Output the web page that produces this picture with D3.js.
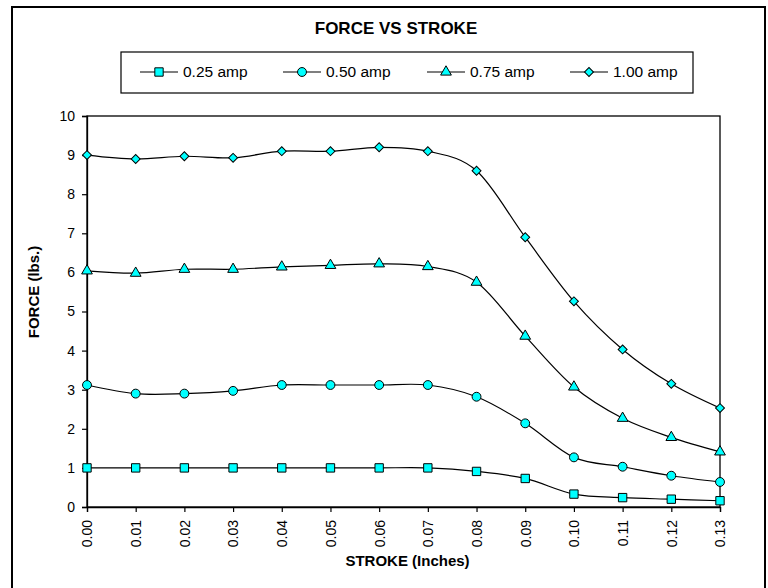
<!DOCTYPE html>
<html>
<head>
<meta charset="utf-8">
<script src="https://cdn.jsdelivr.net/npm/d3@7"></script>
<style>
  html, body { margin: 0; padding: 0; background: #fff; }
  svg { display: block; font-family: "Liberation Sans", Arial, sans-serif; }
</style>
</head>
<body>
<svg id="chart" width="768" height="588"></svg>
<script>
const strokes = ["0.00","0.01","0.02","0.03","0.04","0.05","0.06","0.07","0.08","0.09","0.10","0.11","0.12","0.13"];
const amp025 = [1.0, 1.0, 1.0, 1.0, 1.0, 1.0, 1.0, 1.0, 0.91, 0.73, 0.33, 0.24, 0.20, 0.16];
const amp050 = [3.12, 2.9, 2.9, 2.97, 3.12, 3.12, 3.12, 3.12, 2.82, 2.14, 1.27, 1.03, 0.8, 0.64];
const amp075 = [6.04, 5.98, 6.08, 6.08, 6.14, 6.18, 6.22, 6.15, 5.75, 4.37, 3.07, 2.27, 1.78, 1.41];
const amp100 = [9.0, 8.9, 8.97, 8.93, 9.1, 9.1, 9.2, 9.1, 8.6, 6.9, 5.26, 4.03, 3.15, 2.53];
const seriesNames = ["0.25 amp", "0.50 amp", "0.75 amp", "1.00 amp"];
const seriesValues = [amp025, amp050, amp075, amp100];
const yTicks = [0,1,2,3,4,5,6,7,8,9,10];

// marker shapes: square, circle, triangle, diamond (rotated square)
const markerDefs = [
  {type: d3.symbolSquare, size: 70, rot: 0},
  {type: d3.symbolCircle, size: 62, rot: 0},
  {type: d3.symbolTriangle, size: 50, rot: 0},
  {type: d3.symbolSquare, size: 40, rot: 45}
];

const svg = d3.select("#chart");
const fill = "#00ffff";

// outer frame
svg.append("rect").attr("x", 12).attr("y", 7).attr("width", 753).attr("height", 590)
  .attr("fill", "none").attr("stroke", "#000").attr("stroke-width", 2);

const plot = {left: 87, right: 720, top: 116, bottom: 507};
const x = d3.scalePoint().domain(strokes).range([plot.left, plot.right]);
const y = d3.scaleLinear().domain([0, 10]).range([plot.bottom, plot.top]);

// plot border
svg.append("rect").attr("x", plot.left).attr("y", plot.top)
  .attr("width", plot.right - plot.left).attr("height", plot.bottom - plot.top)
  .attr("fill", "none").attr("stroke", "#000").attr("stroke-width", 1.3);

// y axis
const yAxis = svg.append("g").attr("transform", `translate(${plot.left},0)`)
  .call(d3.axisLeft(y).tickValues(yTicks).tickSize(5).tickPadding(7).tickFormat(d3.format("d")));
yAxis.select(".domain").attr("stroke-width", 1.3);
yAxis.selectAll("line").attr("stroke-width", 1.2);
yAxis.selectAll("text").attr("font-size", "14px").attr("fill", "#000")
  .style("font-family", "'Liberation Sans', Arial, sans-serif");

// x axis
const xAxis = svg.append("g").attr("transform", `translate(0,${plot.bottom})`)
  .call(d3.axisBottom(x).tickSize(5).tickPadding(8));
xAxis.select(".domain").attr("stroke-width", 1.3);
xAxis.selectAll("line").attr("stroke-width", 1.2);
xAxis.selectAll("text")
  .attr("font-size", "14px").attr("fill", "#000")
  .style("font-family", "'Liberation Sans', Arial, sans-serif")
  .attr("transform", "rotate(-90)")
  .attr("text-anchor", "end")
  .attr("x", -13).attr("y", 0).attr("dy", "0.35em");

// lines
const line = d3.line()
  .x((d, i) => x(strokes[i]))
  .y(d => y(d))
  .curve(d3.curveCardinal.tension(0));

seriesValues.forEach((vals) => {
  svg.append("path").datum(vals).attr("d", line)
    .attr("fill", "none").attr("stroke", "#000").attr("stroke-width", 1.2);
});
seriesValues.forEach((vals, si) => {
  const m = markerDefs[si];
  svg.append("g").selectAll("path").data(vals).join("path")
    .attr("transform", (d, i) => `translate(${x(strokes[i])},${y(d)}) rotate(${m.rot})`)
    .attr("d", d3.symbol().type(m.type).size(m.size))
    .attr("fill", fill).attr("stroke", "#000").attr("stroke-width", 1);
});

// title
svg.append("text").attr("x", 396).attr("y", 34).attr("text-anchor", "middle")
  .attr("font-size", "17px").attr("font-weight", "bold").text("FORCE VS STROKE");

// legend
svg.append("rect").attr("x", 121).attr("y", 52).attr("width", 572).attr("height", 41)
  .attr("fill", "#fff").attr("stroke", "#000").attr("stroke-width", 1.2);
const legendX = [140, 283, 427, 570];
const legY = 72;
seriesNames.forEach((name, i) => {
  const m = markerDefs[i];
  const g = svg.append("g").attr("transform", `translate(${legendX[i]},${legY})`);
  g.append("line").attr("x1", 0).attr("x2", 38).attr("y1", 0).attr("y2", 0)
    .attr("stroke", "#000").attr("stroke-width", 1.2);
  g.append("path").attr("transform", `translate(19,0) rotate(${m.rot})`)
    .attr("d", d3.symbol().type(m.type).size(m.size))
    .attr("fill", fill).attr("stroke", "#000").attr("stroke-width", 1);
  g.append("text").attr("x", 43).attr("y", 0).attr("dy", "0.35em")
    .attr("font-size", "15.5px").text(name);
});

// axis titles
svg.append("text").attr("x", (plot.left + plot.right) / 2 + 4).attr("y", 566)
  .attr("text-anchor", "middle").attr("font-size", "15px").attr("font-weight", "bold")
  .text("STROKE (Inches)");
svg.append("text").attr("transform", "translate(39,292) rotate(-90)")
  .attr("text-anchor", "middle").attr("font-size", "15px").attr("font-weight", "bold")
  .text("FORCE (lbs.)");
</script>
</body>
</html>
